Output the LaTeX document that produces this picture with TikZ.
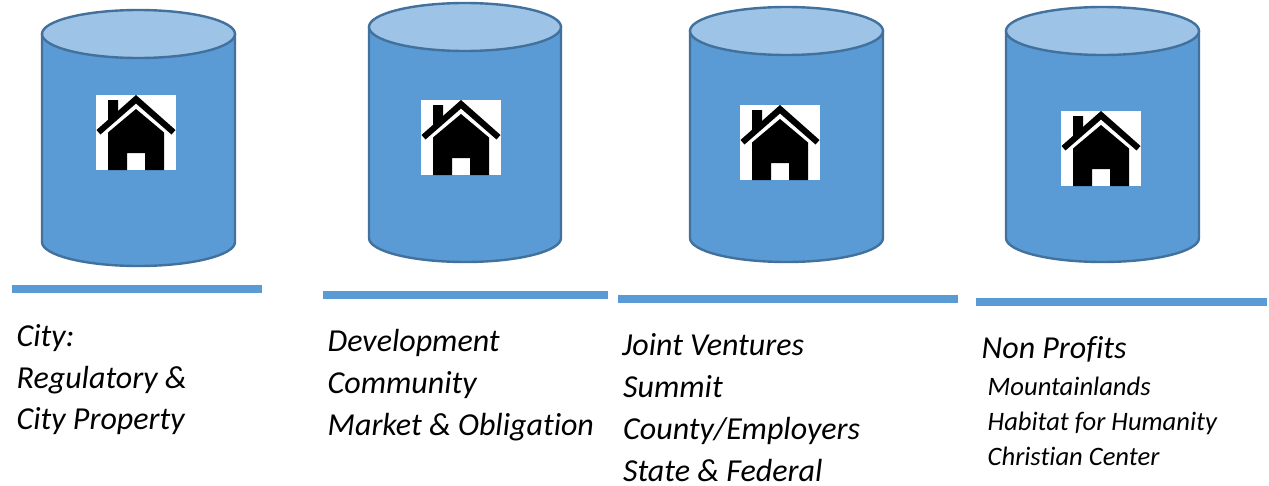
\documentclass[tikz,border=0pt]{standalone}
\usepackage{fontspec}
\setmainfont[Ligatures=NoCommon]{Carlito}
\definecolor{cylfill}{HTML}{5B9BD5}
\definecolor{cyltop}{HTML}{9DC3E6}
\definecolor{cyledge}{HTML}{41719C}
\tikzset{
  x=1pt,y=-1pt,
  bar/.style={draw=none,fill=cylfill},
  biglabel/.style={anchor=base west,inner sep=0pt,font=\fontsize{32}{32}\selectfont\itshape,text=black},
  smalllabel/.style={anchor=base west,inner sep=0pt,font=\fontsize{26.6}{27}\selectfont\itshape,text=black},
  pics/barrel/.style n args={2}{code={
    \path[fill=cylfill,draw=cyledge,line width=2.4pt] (0,24) -- (0,#2-24) arc[start angle=180,end angle=0,x radius=#1/2,y radius=24] -- (#1,24) -- cycle;
    \path[fill=cyltop,draw=cyledge,line width=2.4pt] (#1/2,24) ellipse[x radius=#1/2,y radius=24];
  }},
  pics/cottage/.style={code={
    \fill[white] (0,0) rectangle (80,75);
    \fill[black] (12,5) -- (22,5) -- (22,18) -- (12,27) -- cycle;
    \fill[black] (12,75) -- (12,37.5) -- (40,14) -- (68,37.5) -- (68,75) -- (49,75) -- (49,58) -- (31,58) -- (31,75) -- cycle;
    \fill[black] (0.5,35) -- (40,0) -- (79.5,35) -- (75.5,39.5) -- (40,8.5) -- (4.5,39.5) -- cycle;
  }}
}
\begin{document}
\begin{tikzpicture}
\useasboundingbox (0,0) rectangle (1269,485);
\pic at (42,10) {barrel={193}{256}};
\pic at (369,3) {barrel={192}{259}};
\pic at (690,7) {barrel={193}{255}};
\pic at (1006,7) {barrel={193}{255}};
\pic at (96,95) {cottage};
\pic at (421,100) {cottage};
\pic at (740,105) {cottage};
\pic at (1061,111) {cottage};
\fill[bar] (12,285) rectangle (262,293);
\fill[bar] (323,291) rectangle (608,299);
\fill[bar] (618,295) rectangle (958,303);
\fill[bar] (976,298) rectangle (1267,306);
\node[biglabel] (a1) at (16.5,346.5) {City:};
\node[biglabel] (a2) at (16.5,388.5) {Regulatory \&};
\node[biglabel] (a3) at (16.5,429.5) {City Property};
\node[biglabel] (b1) at (327.5,351.5) {Development};
\node[biglabel] (b2) at (327.5,393.5) {Community};
\node[biglabel] (b3) at (327.5,435.5) {Market \& Obligation};
\node[biglabel] (c1) at (622,355.5) {Joint Ventures};
\node[biglabel] (c2) at (623,397.5) {Summit};
\node[biglabel] (c3) at (623,439.5) {County/Employers};
\node[biglabel] (c4) at (623,481) {State \& Federal};
\node[biglabel] (d1) at (981.5,358.5) {Non Profits};
\node[smalllabel] (d2) at (987.5,395) {Mountainlands};
\node[smalllabel] (d3) at (987.5,430) {Habitat for Humanity};
\node[smalllabel] (d4) at (987.5,465) {Christian Center};
\end{tikzpicture}
\end{document}
